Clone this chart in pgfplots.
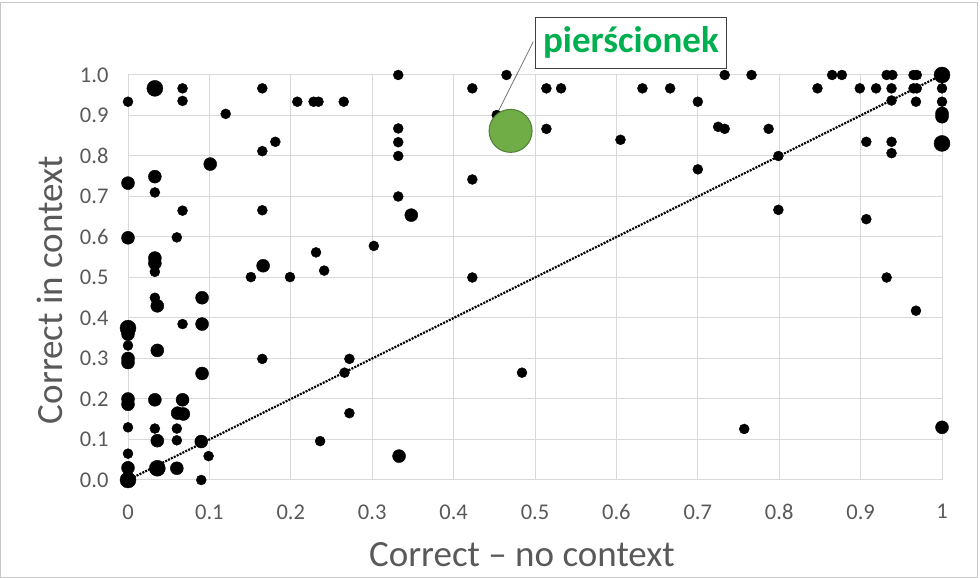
\documentclass[border=0pt]{standalone}
\usepackage{pgfplots}
\pgfplotsset{compat=1.18}
\usepackage{fontspec}
\setmainfont{Carlito}
\definecolor{gridc}{HTML}{D9D9D9}
\definecolor{txt}{HTML}{595959}
\definecolor{grn}{HTML}{70AD47}
\definecolor{grnd}{HTML}{507E32}
\definecolor{lbl}{HTML}{00B050}
\begin{document}
\begin{tikzpicture}[x=1bp,y=1bp]
\path[use as bounding box] (0,0) rectangle (980,578);
\draw[color=black!22, line width=1bp] (0.5,0.5) rectangle (977,575);
\begin{axis}[
  at={(128bp,98bp)}, anchor=south west, scale only axis,
  width=814bp, height=405bp,
  xmin=0, xmax=1, ymin=0, ymax=1,
  xtick={0,0.1,0.2,0.3,0.4,0.5,0.6,0.7,0.8,0.9,1},
  xticklabels={0,0.1,0.2,0.3,0.4,0.5,0.6,0.7,0.8,0.9,1},
  ytick={0,0.1,0.2,0.3,0.4,0.5,0.6,0.7,0.8,0.9,1},
  yticklabels={0.0,0.1,0.2,0.3,0.4,0.5,0.6,0.7,0.8,0.9,1.0},
  grid=major, major grid style={gridc, line width=1bp},
  axis line style={gridc, line width=1bp},
  major tick length=0pt, tick style={draw=none},
  /pgf/number format/assume math mode=true,
  tick label style={font=\fontsize{22.5bp}{27bp}\selectfont, text=txt},
  xticklabel style={yshift=-21bp},
  yticklabel style={xshift=-16bp},
  xlabel={Correct – no context},
  ylabel={Correct in context},
  label style={font=\fontsize{37bp}{44bp}\selectfont, text=txt},
  xlabel style={at={(axis description cs:0.484,-0.185)}, anchor=center},
  ylabel style={at={(axis description cs:-0.0958,0.469)}, anchor=center},
  clip=false,
]
\addplot[black, line width=2.2bp, dash pattern=on 2bp off 1.2bp, no markers] coordinates {(0,0) (1,1)};
% small points
\addplot[only marks, mark=*, mark size=5bp, black] table {
x y
0 0.934
0 0.332
0 0.13
0 0.065
0.033 0.71
0.033 0.514
0.033 0.45
0.033 0.127
0.067 0.967
0.067 0.936
0.067 0.665
0.06 0.599
0.067 0.385
0.06 0.127
0.06 0.098
0.099 0.059
0.09 0.0
0.12 0.904
0.165 0.967
0.165 0.812
0.181 0.835
0.165 0.666
0.151 0.501
0.199 0.501
0.231 0.562
0.241 0.517
0.208 0.934
0.228 0.934
0.234 0.934
0.265 0.934
0.165 0.299
0.236 0.096
0.332 1.0
0.332 0.868
0.332 0.834
0.332 0.8
0.332 0.7
0.302 0.578
0.423 0.967
0.465 1.0
0.453 0.901
0.514 0.967
0.532 0.967
0.514 0.867
0.423 0.742
0.605 0.84
0.423 0.5
0.272 0.299
0.266 0.265
0.484 0.265
0.272 0.165
0.632 0.967
0.666 0.967
0.70 0.934
0.733 1.0
0.766 1.0
0.865 1.0
0.877 1.0
0.932 1.0
0.939 1.0
0.965 1.0
0.969 1.0
0.847 0.967
0.899 0.967
0.919 0.967
0.938 0.967
0.965 0.967
0.969 0.967
1.0 0.967
0.938 0.937
0.968 0.934
1.0 0.934
0.725 0.872
0.733 0.867
0.787 0.867
0.907 0.835
0.938 0.835
0.938 0.807
0.799 0.8
0.70 0.767
0.799 0.667
0.907 0.644
0.932 0.5
0.968 0.418
0.757 0.126
};
% medium points
\addplot[only marks, mark=*, mark size=6.5bp, black] table {
x y
0 0.733
0 0.598
0 0.36
0 0.29
0 0.30
0 0.187
0 0.2
0 0.03
0.033 0.749
0.033 0.548
0.033 0.535
0.036 0.43
0.036 0.32
0.033 0.198
0.036 0.097
0.091 0.385
0.091 0.45
0.091 0.263
0.067 0.198
0.061 0.165
0.068 0.163
0.09 0.095
0.101 0.78
0.166 0.529
0.348 0.654
0.333 0.059
1.0 0.905
1.0 0.897
1.0 0.13
0.06 0.029
};
% large points
\addplot[only marks, mark=*, mark size=8bp, black] table {
x y
0 0.0
0.033 0.967
0 0.375
0.036 0.029
1.0 1.0
1.0 0.831
};
% highlighted word
\addplot[only marks, mark=*, mark size=21.5bp, mark options={fill=grn, draw=grnd, line width=1bp}] coordinates {(0.470,0.862)};
\draw[black!55, line width=0.8bp] (axis cs:0.4979,1.0822) -- (axis cs:0.4545,0.9086);
\node[draw=black!75, line width=1bp, fill=white, text=lbl,
  font=\bfseries\fontsize{37bp}{44bp}\selectfont,
  minimum width=191bp, minimum height=51bp, inner sep=0pt]
  at (axis cs:0.6178,1.0802) {pierścionek};
\end{axis}
\end{tikzpicture}
\end{document}
